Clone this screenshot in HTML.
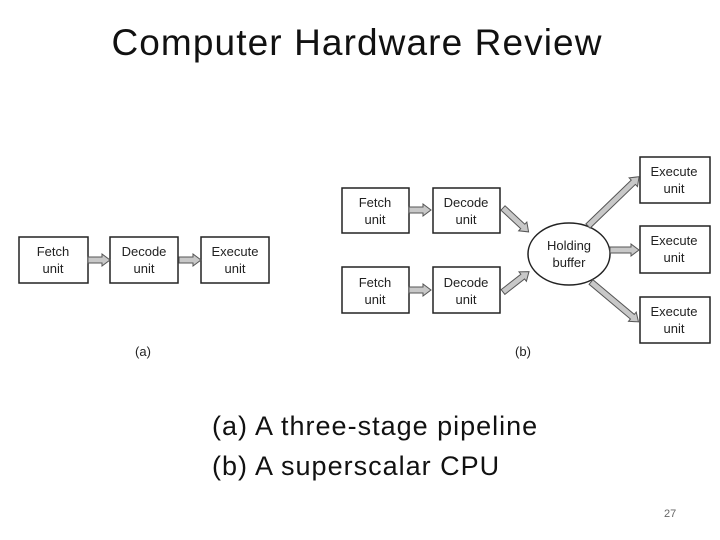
<!DOCTYPE html>
<html><head><style>
body{margin:0;width:720px;height:540px;background:#fff;overflow:hidden;position:relative;font-family:"Liberation Sans",sans-serif}
.t{position:absolute;white-space:nowrap}
</style></head><body>
<div class="t" style="left:0;width:714px;text-align:center;top:22px;font-size:37px;letter-spacing:1.1px;color:#111">Computer Hardware Review</div>
<svg width="720" height="540" style="position:absolute;left:0;top:0" font-family="Liberation Sans, sans-serif" font-size="13" text-anchor="middle">
<g fill="#fff" stroke="#222" stroke-width="1.5">
<rect x="19" y="237" width="69" height="46"/>
<rect x="110" y="237" width="68" height="46"/>
<rect x="201" y="237" width="68" height="46"/>
<rect x="342" y="188" width="67" height="45"/>
<rect x="433" y="188" width="67" height="45"/>
<rect x="342" y="267" width="67" height="46"/>
<rect x="433" y="267" width="67" height="46"/>
<rect x="640" y="157" width="70" height="46"/>
<rect x="640" y="226" width="70" height="47"/>
<rect x="640" y="297" width="70" height="46"/>
<ellipse cx="569" cy="254" rx="41" ry="31"/>
</g>
<g fill="#c8c8c8" stroke="#555" stroke-width="1">
<path transform="translate(88,260)" d="M0,-3 L14,-3 L14,-6 L22,0 L14,6 L14,3 L0,3 Z"/>
<path transform="translate(179,260)" d="M0,-3 L14,-3 L14,-6 L22,0 L14,6 L14,3 L0,3 Z"/>
<path transform="translate(409,210)" d="M0,-3 L14,-3 L14,-6 L22,0 L14,6 L14,3 L0,3 Z"/>
<path transform="translate(409,290)" d="M0,-3 L14,-3 L14,-6 L22,0 L14,6 L14,3 L0,3 Z"/>
<path transform="translate(610,250)" d="M0,-3 L21,-3 L21,-6 L29,0 L21,6 L21,3 L0,3 Z"/>
<path transform="translate(503,208) rotate(43)" d="M0,-3 L27,-3 L27,-6 L35,0 L27,6 L27,3 L0,3 Z"/>
<path transform="translate(503,292) rotate(-38)" d="M0,-3 L25,-3 L25,-6 L33,0 L25,6 L25,3 L0,3 Z"/>
<path transform="translate(588,226) rotate(-44)" d="M0,-3 L63,-3 L63,-6 L71,0 L63,6 L63,3 L0,3 Z"/>
<path transform="translate(591,282) rotate(40)" d="M0,-3 L54,-3 L54,-6 L62,0 L54,6 L54,3 L0,3 Z"/>
</g>
<g fill="#222">
<text x="53" y="256">Fetch</text><text x="53" y="273">unit</text>
<text x="144" y="256">Decode</text><text x="144" y="273">unit</text>
<text x="235" y="256">Execute</text><text x="235" y="273">unit</text>
<text x="375" y="207">Fetch</text><text x="375" y="224">unit</text>
<text x="466" y="207">Decode</text><text x="466" y="224">unit</text>
<text x="375" y="287">Fetch</text><text x="375" y="304">unit</text>
<text x="466" y="287">Decode</text><text x="466" y="304">unit</text>
<text x="569" y="250">Holding</text><text x="569" y="267">buffer</text>
<text x="674" y="176">Execute</text><text x="674" y="193">unit</text>
<text x="674" y="245">Execute</text><text x="674" y="262">unit</text>
<text x="674" y="316">Execute</text><text x="674" y="333">unit</text>
<text x="143" y="356">(a)</text>
<text x="523" y="356">(b)</text>
</g>
</svg>
<div class="t" style="left:212px;top:406px;font-size:27px;letter-spacing:1px;color:#111;line-height:40px">(a) A three-stage pipeline<br>(b) A superscalar CPU</div>
<div class="t" style="left:664px;top:508px;font-size:11px;color:#666">27</div>
</body></html>
